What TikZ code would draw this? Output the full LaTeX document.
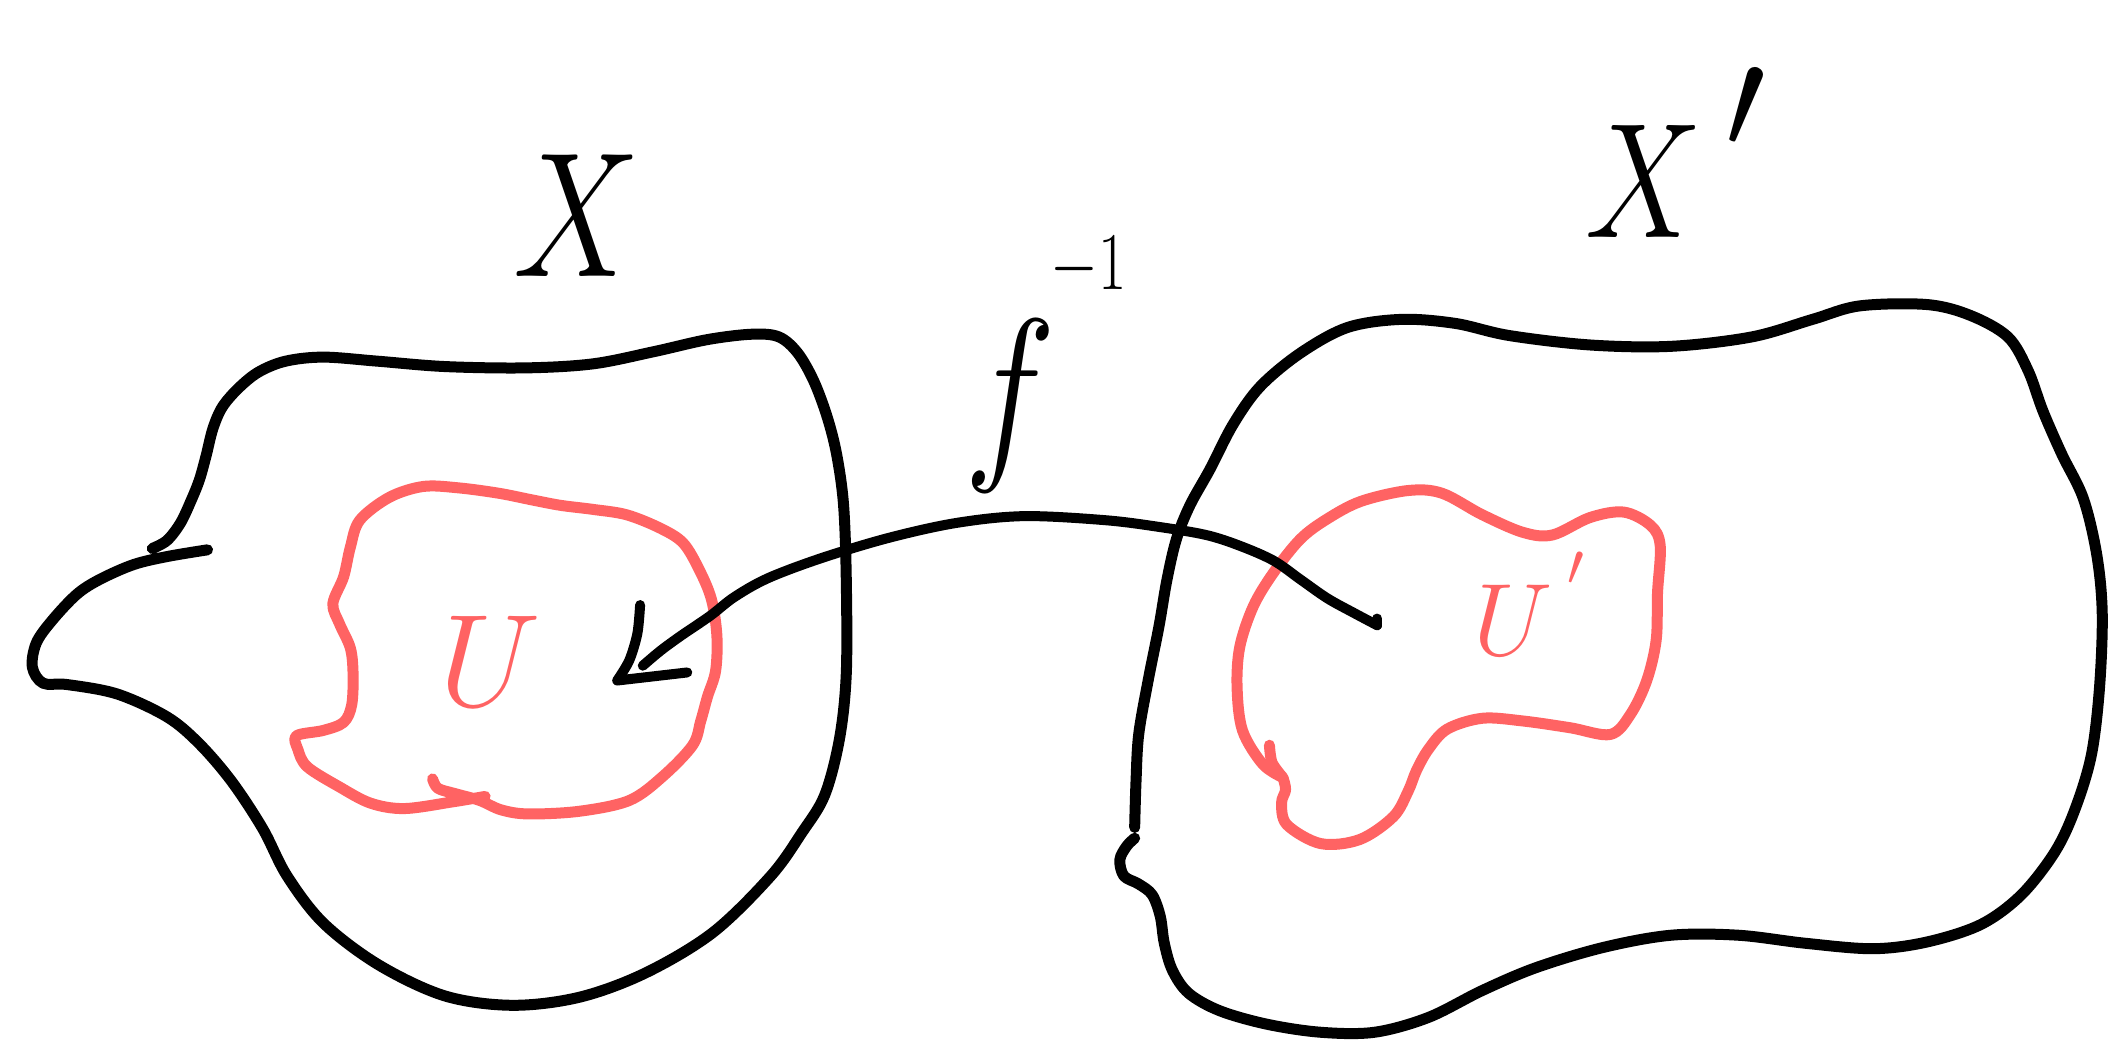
\RequirePackage{fix-cm}
\documentclass[tikz,border=0pt]{standalone}
\usepackage{graphicx}
\definecolor{penred}{RGB}{255,99,99}
\begin{document}
\begin{tikzpicture}[x=1.3476pt,y=-1.3476pt,
  pen/.style={line width=11pt,line cap=round,line join=round},
  inkpen/.style={pen,draw=black},
  redpen/.style={pen,draw=penred},
  lbl/.style={inner sep=0pt,anchor=center}]
\useasboundingbox (0,0) rectangle (1568,784);

% ---- set X ----
\draw[inkpen] plot[smooth,tension=0.55] coordinates {
 (113,407) (124,401) (134,388) (142,371) (148,356) (153,338) (158,318) (165,302)
 (177,288) (192,276) (212,268) (240,265) (280,268) (330,272) (390,273) (440,270)
 (485,261) (525,252) (558,248) (578,250) (592,262) (604,283) (614,310) (621,338)
 (626,375) (628,430) (628,500) (623,548) (612,590) (595,618) (572,650) (529,692)
 (479,722) (430,740) (380,746) (330,739) (281,716) (240,685) (213,650) (195,615)
 (172,580) (148,552) (124,532) (87,515) (50,508) (32,507) (24,495) (27,477)
 (39,460) (57,441) (74,430) (99,419) (124,413) (154,408)};

% ---- set X' ----
\draw[inkpen] plot[smooth,tension=0.55] coordinates {
 (842,614) (843,580) (845,545) (852,505) (860,465) (866,430) (873,400) (883,375)
 (898,348) (915,315) (935,287) (965,262) (1000,243) (1040,237) (1080,240)
 (1120,249) (1180,256) (1240,257) (1300,250) (1345,237) (1380,227) (1430,226)
 (1462,234) (1490,250) (1505,275) (1516,305) (1530,337) (1546,370) (1556,412)
 (1560,455) (1558,510) (1552,560) (1540,600) (1525,632) (1500,664) (1470,686)
 (1430,699) (1390,704) (1340,700) (1290,694) (1240,694) (1190,703) (1140,718)
 (1100,735) (1060,755) (1020,766) (980,766) (940,760) (905,750) (882,737)
 (870,720) (864,700) (861,680) (855,664) (845,656) (834,650) (831,638) (836,628)
 (842,622)};

% ---- subset U ----
\draw[redpen] plot[smooth,tension=0.55] coordinates {
 (321,578) (325,585) (338,589) (356,594) (372,601) (392,604) (430,602) (467,594)
 (492,576) (514,553) (520,535) (525,517) (531,498) (532,472) (528,445) (519,423)
 (507,403) (490,392) (465,382) (440,378) (416,375) (395,371) (370,366) (340,362)
 (314,361) (289,369) (267,386) (260,406) (255,428) (247,448) (252,463) (260,481)
 (262,500) (261,523) (255,536) (240,542) (220,546) (221,556) (228,569) (252,584)
 (275,596) (300,600) (336,595) (360,591)};

% ---- subset U' ----
\draw[redpen] plot[smooth,tension=0.55] coordinates {
 (952,577) (954,586) (951,596) (955,612) (980,626) (1009,623) (1034,606)
 (1045,587) (1051,572) (1060,556) (1074,541) (1100,533) (1130,535) (1165,540)
 (1195,545) (1210,530) (1222,505) (1229,475) (1230,440) (1232,405) (1225,390)
 (1205,380) (1180,384) (1152,397) (1130,395) (1100,382) (1070,366) (1045,364)
 (1010,372) (985,385) (965,400) (945,425) (930,450) (920,480) (918,510)
 (922,542) (937,567) (952,577)};
\draw[redpen] plot[smooth] coordinates {(942,553) (944,566) (952,577)};

% ---- map f^{-1} ----
\coordinate (fstart) at (1022,464);
\coordinate (shaftend) at (477,494);
\coordinate (ftip) at (458,505);
\draw[inkpen,line width=10pt] plot[smooth,tension=0.55] coordinates {
 (1022,464) (1005,455) (985,444) (965,430) (945,416) (920,405) (895,397)
 (860,391) (820,386) (760,383) (710,388) (660,399) (610,414) (570,429)
 (545,443) (527,457) (505,472) (490,483) (477,494)};
\draw[inkpen,line width=10pt] (fstart) -- ++(0,-5);
\draw[inkpen,line width=10pt] plot[smooth,tension=0.5] coordinates {
 (475,449) (473,470) (467,490) (458,505)} -- (510,499);

% ---- labels ----
\node[lbl] (lX) at (428,160) {\fontsize{178}{178}\selectfont\scalebox{0.8}[1]{$X$}};
\node[lbl] (lXp) at (1220,135) {\fontsize{164}{164}\selectfont\scalebox{0.8}[1]{$X$}};
\node[lbl] (lXpp) at (1295,80) {\fontsize{145}{145}\selectfont$\prime$};
\node[lbl] (lf) at (750,301) {\fontsize{194}{194}\selectfont\scalebox{0.8}[1]{$f$}};
\node[lbl] (lfi) at (808,198) {\fontsize{82}{82}\selectfont\scalebox{0.75}[1]{$-1$}};
\node[lbl,text=penred] (lU) at (364,491) {\fontsize{132}{132}\selectfont$U$};
\node[lbl,text=penred] (lUp) at (1123,460) {\fontsize{103}{103}\selectfont$U$};
\node[lbl,text=penred] (lUpp) at (1169,422) {\fontsize{60}{60}\selectfont$\prime$};
\end{tikzpicture}
\end{document}
